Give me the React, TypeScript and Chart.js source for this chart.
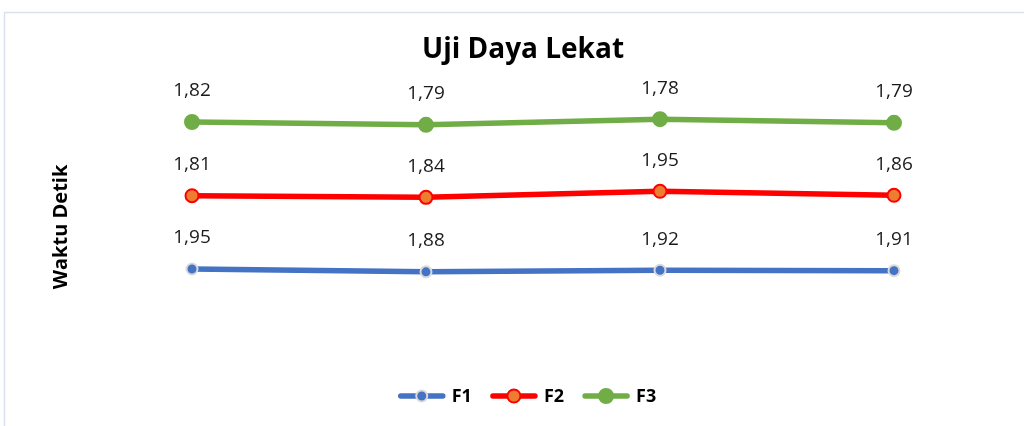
import React, { useEffect, useRef } from "react";
import { Chart, registerables } from "chart.js";

Chart.register(...registerables);

const categories = ["1", "2", "3", "4"];
const seriesNames = ["F1", "F2", "F3"];
const f1Values = [1.95, 1.88, 1.92, 1.91];
const f2Values = [1.81, 1.84, 1.95, 1.86];
const f3Values = [1.82, 1.79, 1.78, 1.79];
const chartTitle = "Uji Daya Lekat";
const yAxisTitle = "Waktu Detik";

const FONT = "'Open Sans', 'Liberation Sans', sans-serif";

const lineColors = ["#4472C4", "#FF0000", "#70AD47"];
const markerFill = ["#4472C4", "#ED7D31", "#70AD47"];
const markerBorder = ["#D9D9D9", "#FF0000", "#70AD47"];
const markerRadius = [5.5, 6.5, 7];

const fmt = (v: number) => v.toFixed(2).replace(".", ",");

const decorPlugin = {
  id: "decor",
  beforeDraw(chart: any) {
    const ctx = chart.ctx;
    ctx.save();
    ctx.fillStyle = "#ffffff";
    ctx.fillRect(0, 0, chart.width, chart.height);
    ctx.strokeStyle = "#D9E1EA";
    ctx.lineWidth = 1.5;
    ctx.beginPath();
    ctx.moveTo(4.5, chart.height + 5);
    ctx.lineTo(4.5, 12.5);
    ctx.lineTo(chart.width + 5, 12.5);
    ctx.stroke();
    ctx.restore();
  },
  afterDraw(chart: any) {
    const ctx = chart.ctx;
    ctx.save();
    // title
    ctx.fillStyle = "#000000";
    ctx.font = `bold 28px ${FONT}`;
    ctx.textAlign = "center";
    ctx.textBaseline = "middle";
    ctx.fillText(chartTitle, 523, 50);
    // y axis title
    ctx.save();
    ctx.translate(61, 227);
    ctx.rotate(-Math.PI / 2);
    ctx.font = `bold 20px ${FONT}`;
    ctx.fillText(yAxisTitle, 0, 0);
    ctx.restore();
    // data labels
    ctx.font = `19px ${FONT}`;
    ctx.fillStyle = "#1a1a1a";
    chart.data.datasets.forEach((ds: any, di: number) => {
      const meta = chart.getDatasetMeta(di);
      meta.data.forEach((pt: any, i: number) => {
        ctx.fillText(fmt(ds.data[i]), pt.x, pt.y - 31);
      });
    });
    // legend
    ctx.font = `bold 18px ${FONT}`;
    const lineW = 48;
    const gap = 6;
    const spacing = 18;
    const widths = seriesNames.map((n) => lineW + gap + ctx.measureText(n).width);
    const total = widths.reduce((a, b) => a + b, 0) + spacing * (widths.length - 1);
    let x = 527 - total / 2;
    const ly = 396;
    seriesNames.forEach((name, i) => {
      ctx.strokeStyle = lineColors[i];
      ctx.lineWidth = 5.5;
      ctx.lineCap = "round";
      ctx.beginPath();
      ctx.moveTo(x + 3, ly);
      ctx.lineTo(x + lineW - 3, ly);
      ctx.stroke();
      ctx.beginPath();
      ctx.arc(x + lineW / 2, ly, markerRadius[i], 0, Math.PI * 2);
      ctx.fillStyle = markerFill[i];
      ctx.fill();
      ctx.lineWidth = 2;
      ctx.strokeStyle = markerBorder[i];
      ctx.stroke();
      ctx.fillStyle = "#000000";
      ctx.textAlign = "left";
      ctx.fillText(name, x + lineW + gap, ly + 1);
      x += widths[i] + spacing;
    });
    ctx.restore();
  },
};

export default function App() {
  const ref = useRef<HTMLCanvasElement | null>(null);
  useEffect(() => {
    if (!ref.current) return;
    const values = [f1Values, f2Values, f3Values];
    const chart = new Chart(ref.current, {
      type: "line",
      data: {
        labels: categories,
        datasets: seriesNames.map((name, i) => ({
          label: name,
          data: values[i],
          borderColor: lineColors[i],
          borderWidth: 5.5,
          backgroundColor: markerFill[i],
          pointBackgroundColor: markerFill[i],
          pointBorderColor: markerBorder[i],
          pointBorderWidth: 2,
          pointRadius: markerRadius[i],
          fill: false,
          tension: 0,
          borderCapStyle: "round",
          borderJoinStyle: "round",
        })),
      },
      options: {
        animation: false,
        responsive: false,
        maintainAspectRatio: false,
        layout: { padding: { left: 75, right: 13, top: 105, bottom: 78 } },
        plugins: {
          legend: { display: false },
          title: { display: false },
          tooltip: { enabled: false },
        },
        scales: {
          x: { display: false, offset: true },
          y: { display: false, stacked: true, min: 0, max: 6 },
        },
      },
      plugins: [decorPlugin],
    });
    return () => chart.destroy();
  }, []);
  return (
    <div style={{ position: "fixed", left: 0, top: 0, width: 1024, height: 426, background: "#fff" }}>
      <canvas ref={ref} width={1024} height={426} style={{ width: 1024, height: 426 }} />
    </div>
  );
}
